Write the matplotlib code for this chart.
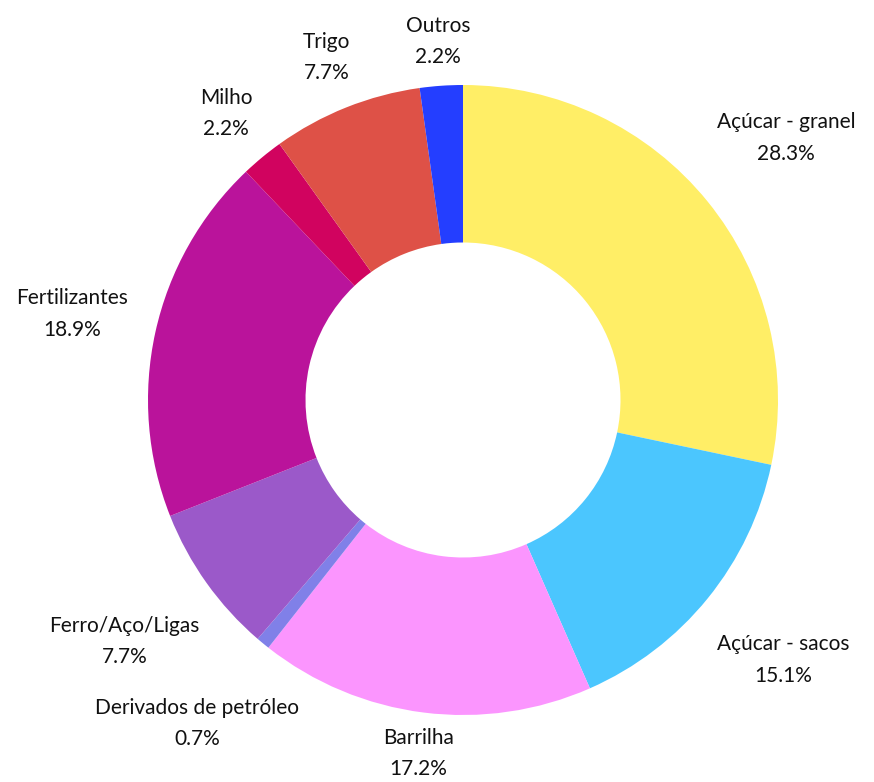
import numpy as np
import matplotlib
matplotlib.use("Agg")
import matplotlib.pyplot as plt

categories = ["Açúcar - granel", "Açúcar - sacos", "Barrilha", "Derivados de petróleo",
              "Ferro/Aço/Ligas", "Fertilizantes", "Milho", "Trigo", "Outros"]
values = [28.3, 15.1, 17.2, 0.7, 7.7, 18.9, 2.2, 7.7, 2.2]
colors = ["#FFEE66", "#4BC6FE", "#FB95FE", "#8080E8", "#9B59C9",
          "#BA139B", "#D1035F", "#DE5147", "#243EFF"]
label_dist = [1.32, 1.31, 1.13, 1.33, 1.32, 1.27, 1.18, 1.17, 1.14]

plt.rcParams['font.family'] = ['Lato', 'DejaVu Sans']

fig = plt.figure(figsize=(8.74, 7.82), dpi=100)
W, H = 874, 782
cx, cy, R = 463, 782 - 400, 315
ax = fig.add_axes([(cx - R) / W, (cy - R) / H, 2 * R / W, 2 * R / H])

wedges, _ = ax.pie(values, colors=colors, startangle=90, counterclock=False,
                   radius=1, wedgeprops=dict(width=0.5, linewidth=0),
                   normalize=True)
ax.set_xlim(-1, 1)
ax.set_ylim(-1, 1)
ax.set_aspect("auto")
ax.axis("off")

total = sum(values)
for w, name, v, d in zip(wedges, categories, values, label_dist):
    ang = np.deg2rad((w.theta1 + w.theta2) / 2)
    x, y = d * np.cos(ang), d * np.sin(ang)
    ax.text(x, y, f"{name}\n{v / total * 100:.1f}%", ha="center", va="center",
            fontsize=15, linespacing=1.7, color="#111111", clip_on=False)

fig.savefig("out.png", dpi=100)
